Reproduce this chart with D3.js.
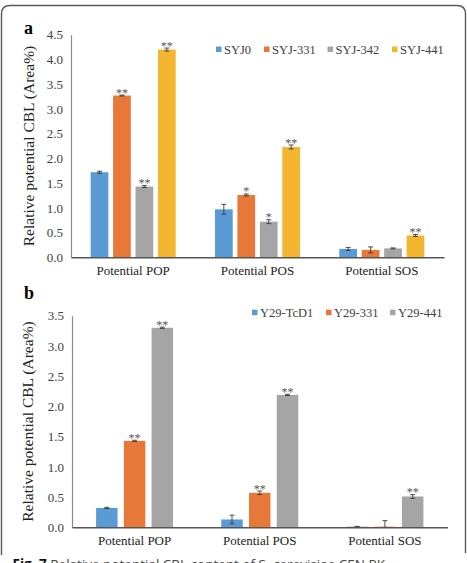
<!DOCTYPE html>
<html>
<head>
<meta charset="utf-8">
<script src="https://cdn.jsdelivr.net/npm/d3@7"></script>
<style>
html,body{margin:0;padding:0;background:#fff;overflow:hidden;}
svg{display:block;}
</style>
</head>
<body>
<svg id="chart" width="467" height="563"></svg>
<script>
// ---------- DATA ----------
const categories = ["Potential POP", "Potential POS", "Potential SOS"];

// Panel a
const seriesA = ["SYJ0", "SYJ-331", "SYJ-342", "SYJ-441"];
const colorsA = ["#5B9BD5", "#E8783A", "#A5A5A5", "#F4B631"];
const valuesA = [
  [1.72, 0.97, 0.17],   // SYJ0
  [3.27, 1.26, 0.15],   // SYJ-331
  [1.43, 0.72, 0.18],   // SYJ-342
  [4.20, 2.23, 0.44]    // SYJ-441
];
const errorsA = [
  [0.02, 0.10, 0.03],
  [0.01, 0.02, 0.06],
  [0.02, 0.04, 0.01],
  [0.03, 0.04, 0.02]
];
const starsA = [
  ["", "", ""],
  ["**", "*", ""],
  ["**", "*", ""],
  ["**", "**", "**"]
];
const ticksA = [0, 0.5, 1.0, 1.5, 2.0, 2.5, 3.0, 3.5, 4.0, 4.5];

// Panel b
const seriesB = ["Y29-TcD1", "Y29-331", "Y29-441"];
const colorsB = ["#5B9BD5", "#E8783A", "#A5A5A5"];
const valuesB = [
  [0.32, 0.13, 0.01],   // Y29-TcD1
  [1.43, 0.57, 0.01],   // Y29-331
  [3.30, 2.19, 0.51]    // Y29-441
];
const errorsB = [
  [0.01, 0.07, 0.005],
  [0.01, 0.03, 0.10],
  [0.01, 0.01, 0.03]
];
const starsB = [
  ["", "", ""],
  ["**", "**", ""],
  ["**", "**", "**"]
];
const ticksB = [0, 0.5, 1.0, 1.5, 2.0, 2.5, 3.0, 3.5];

const yTitle = "Relative potential CBL (Area%)";
const captionBold = "Fig. 7";
const captionText = "Relative potential CBL content of S. cerevisiae CEN.PK";

// ---------- DRAW ----------
const svg = d3.select("#chart");
const serif = "'Liberation Serif','Times New Roman',serif";
const textColor = "#404040";

// frame
svg.append("path")
  .attr("d", "M1.5,555 L1.5,14 Q1.5,5.5 10,5.5 L457,5.5 Q465.5,5.5 465.5,14 L465.5,553")
  .attr("fill", "none").attr("stroke", "#5a5a5a").attr("stroke-width", 1.4);

function panel(cfg) {
  const g = svg.append("g");
  const x0 = d3.scaleBand().domain(categories)
    .range([cfg.left, cfg.right]).paddingInner(cfg.pIn).paddingOuter(cfg.pIn / 2);
  const x1 = d3.scaleBand().domain(cfg.series)
    .range([0, x0.bandwidth()]).paddingInner(cfg.barPad).paddingOuter(0);
  const y = d3.scaleLinear().domain([0, cfg.max]).range([cfg.bottom, cfg.top]);

  // y axis
  const yAxis = g.append("g").attr("transform", `translate(${cfg.left},0)`)
    .call(d3.axisLeft(y).tickValues(cfg.ticks).tickFormat(d3.format(".1f")).tickSize(0).tickPadding(8));
  yAxis.select(".domain").attr("stroke", "#8a8a8a").attr("stroke-width", 1.2);
  yAxis.selectAll("text").attr("font-family", serif).attr("font-size", 13).attr("fill", textColor);

  // bars
  cfg.series.forEach((s, si) => {
    categories.forEach((c, ci) => {
      const v = cfg.values[si][ci];
      const e = cfg.errors[si][ci];
      const bx = x0(c) + x1(s);
      const bw = x1.bandwidth();
      g.append("rect")
        .attr("x", bx).attr("y", y(v))
        .attr("width", bw).attr("height", y(0) - y(v))
        .attr("fill", cfg.colors[si]);
      const cx = bx + bw / 2;
      const eg = g.append("g").attr("stroke", "#3a3a3a").attr("stroke-width", 0.9);
      eg.append("line").attr("x1", cx).attr("x2", cx).attr("y1", y(v + e)).attr("y2", y(Math.max(0, v - e)));
      eg.append("line").attr("x1", cx - 2.5).attr("x2", cx + 2.5).attr("y1", y(v + e)).attr("y2", y(v + e));
      eg.append("line").attr("x1", cx - 2.5).attr("x2", cx + 2.5).attr("y1", y(Math.max(0, v - e))).attr("y2", y(Math.max(0, v - e)));
      const st = cfg.stars[si][ci];
      if (st) {
        g.append("text")
          .attr("x", cx).attr("y", y(v + e) + 1.5)
          .attr("text-anchor", "middle")
          .attr("font-family", serif).attr("font-size", 12)
          .attr("fill", "#555").text(st);
      }
    });
  });

  // x axis
  const xAxis = g.append("g").attr("transform", `translate(0,${cfg.bottom})`)
    .call(d3.axisBottom(x0).tickSize(0).tickPadding(8));
  xAxis.select(".domain").attr("stroke", "#555").attr("stroke-width", 1.5);
  xAxis.selectAll("text").attr("font-family", serif).attr("font-size", 13).attr("fill", "#222");

  // y title
  g.append("text")
    .attr("transform", `translate(${cfg.titleX},${(cfg.top + cfg.bottom) / 2}) rotate(-90)`)
    .attr("text-anchor", "middle").attr("dominant-baseline", "central")
    .attr("font-family", serif).attr("font-size", 15.5).attr("fill", "#222")
    .text(yTitle);

  // panel letter
  g.append("text").attr("x", 24).attr("y", cfg.letterY)
    .attr("font-family", serif).attr("font-weight", "bold").attr("font-size", 18)
    .attr("fill", "#000").text(cfg.letter);

  // legend
  const lg = g.append("g");
  cfg.series.forEach((s, si) => {
    lg.append("rect").attr("x", cfg.legendX[si]).attr("y", cfg.legendY - 3)
      .attr("width", 5.5).attr("height", 5.5).attr("fill", cfg.colors[si]);
    lg.append("text").attr("x", cfg.legendX[si] + 8).attr("y", cfg.legendY)
      .attr("dominant-baseline", "central")
      .attr("font-family", serif).attr("font-size", 12.5).attr("fill", textColor).text(s);
  });
}

panel({
  series: seriesA, colors: colorsA, values: valuesA, errors: errorsA, stars: starsA,
  ticks: ticksA, max: 4.5, left: 71, right: 444, top: 34.7, bottom: 257.3,
  pIn: 0.316, barPad: 0.21, titleX: 28, letter: "a", letterY: 34,
  legendX: [216, 264, 327.5, 392], legendY: 49.5
});

panel({
  series: seriesB, colors: colorsB, values: valuesB, errors: errorsB, stars: starsB,
  ticks: ticksB, max: 3.5, left: 72, right: 447.5, top: 315.7, bottom: 527.3,
  pIn: 0.385, barPad: 0.226, titleX: 27.5, letter: "b", letterY: 299,
  legendX: [252, 326, 390], legendY: 312.7
});

// caption (cut off at bottom, as in the reference)
const cap = svg.append("text").attr("x", 12.5).attr("y", 568.5)
  .attr("font-family", "'Open Sans','Noto Sans',sans-serif").attr("font-size", 13.5);
cap.append("tspan").attr("font-weight", "bold").attr("fill", "#111").text(captionBold);
cap.append("tspan").attr("fill", "#444").text(" " + captionText);
</script>
</body>
</html>
